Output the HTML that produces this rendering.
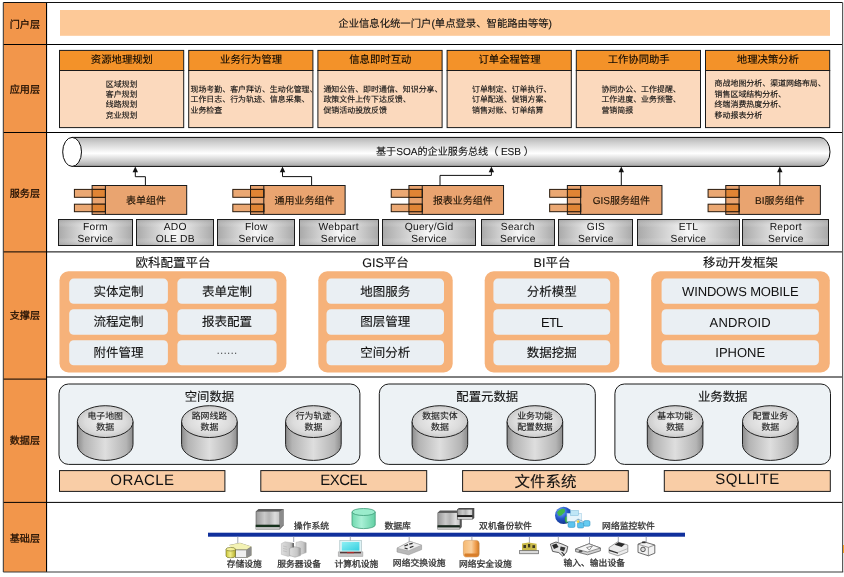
<!DOCTYPE html>
<html lang="zh-CN"><head><meta charset="utf-8"><title>企业信息化架构</title>
<style>
html,body{margin:0;padding:0;background:#fff;}
body{width:844px;height:577px;position:relative;overflow:hidden;font-family:"Liberation Sans",sans-serif;text-rendering:geometricPrecision;}
svg{position:absolute;left:0;top:0;}
.t{position:absolute;white-space:nowrap;overflow:visible;}
.k{-webkit-text-stroke:0.12px currentColor;}
#tx{position:absolute;left:0;top:0;width:844px;height:577px;will-change:transform;}
</style></head><body>
<svg width="844" height="577" viewBox="0 0 844 577">
<rect x="3.3" y="2.5" width="43.25" height="569.5" fill="#F2964B"/>
<line x1="3.3" y1="44.5" x2="842.6" y2="44.5" stroke="#000" stroke-width="1"/>
<line x1="3.3" y1="132.5" x2="842.6" y2="132.5" stroke="#000" stroke-width="1"/>
<line x1="3.3" y1="251.9" x2="842.6" y2="251.9" stroke="#000" stroke-width="1"/>
<line x1="3.3" y1="379.1" x2="46.55" y2="379.1" stroke="#000" stroke-width="1"/>
<line x1="46.55" y1="377.0" x2="842.6" y2="377.0" stroke="#000" stroke-width="1"/>
<line x1="3.3" y1="502.4" x2="842.6" y2="502.4" stroke="#000" stroke-width="1"/>
<line x1="46.55" y1="2.5" x2="46.55" y2="572.0" stroke="#000" stroke-width="1.1"/>
<line x1="3.3" y1="2.5" x2="842.6" y2="2.5" stroke="#111" stroke-width="1.1"/>
<line x1="3.3" y1="2.5" x2="3.3" y2="572.0" stroke="#333" stroke-width="1"/>
<line x1="842.6" y1="2.5" x2="842.6" y2="572.0" stroke="#5a5a5a" stroke-width="1.2"/>
<line x1="3.3" y1="572.0" x2="843.2" y2="572.0" stroke="#3a3a3a" stroke-width="1.2"/>
<rect x="843" y="545" width="1" height="8" fill="#F5A020"/>
<rect x="60" y="10" width="770" height="25.8" fill="#FDC998"/>
<rect x="59.50" y="70.5" width="124.2" height="57.1" fill="#FBD9BD" stroke="#1a1a1a" stroke-width="1"/>
<rect x="59.50" y="50.4" width="124.2" height="20.1" fill="#F39229" stroke="#1a1a1a" stroke-width="1"/>
<rect x="188.70" y="70.5" width="124.2" height="57.1" fill="#FBD9BD" stroke="#1a1a1a" stroke-width="1"/>
<rect x="188.70" y="50.4" width="124.2" height="20.1" fill="#F39229" stroke="#1a1a1a" stroke-width="1"/>
<rect x="317.90" y="70.5" width="124.2" height="57.1" fill="#FBD9BD" stroke="#1a1a1a" stroke-width="1"/>
<rect x="317.90" y="50.4" width="124.2" height="20.1" fill="#F39229" stroke="#1a1a1a" stroke-width="1"/>
<rect x="447.10" y="70.5" width="124.2" height="57.1" fill="#FBD9BD" stroke="#1a1a1a" stroke-width="1"/>
<rect x="447.10" y="50.4" width="124.2" height="20.1" fill="#F39229" stroke="#1a1a1a" stroke-width="1"/>
<rect x="576.30" y="70.5" width="124.2" height="57.1" fill="#FBD9BD" stroke="#1a1a1a" stroke-width="1"/>
<rect x="576.30" y="50.4" width="124.2" height="20.1" fill="#F39229" stroke="#1a1a1a" stroke-width="1"/>
<rect x="705.50" y="70.5" width="124.2" height="57.1" fill="#FBD9BD" stroke="#1a1a1a" stroke-width="1"/>
<rect x="705.50" y="50.4" width="124.2" height="20.1" fill="#F39229" stroke="#1a1a1a" stroke-width="1"/>
<defs>
<linearGradient id="pipe" x1="0" y1="0" x2="0" y2="1">
<stop offset="0" stop-color="#b4b4b4"/><stop offset="0.18" stop-color="#cfcfcf"/><stop offset="0.55" stop-color="#ffffff"/><stop offset="0.8" stop-color="#d0d0d0"/><stop offset="1" stop-color="#a6a6a6"/>
</linearGradient>
<linearGradient id="svcH" x1="0" y1="0" x2="1" y2="0">
<stop offset="0" stop-color="#a9a9a9"/><stop offset="0.5" stop-color="#f7f7f7"/><stop offset="1" stop-color="#a9a9a9"/>
</linearGradient>
<linearGradient id="svcV" x1="0" y1="0" x2="0" y2="1">
<stop offset="0" stop-color="#999" stop-opacity="0.55"/><stop offset="0.3" stop-color="#fff" stop-opacity="0"/><stop offset="0.7" stop-color="#fff" stop-opacity="0"/><stop offset="1" stop-color="#999" stop-opacity="0.55"/>
</linearGradient>
<linearGradient id="cylS" x1="0" y1="0" x2="1" y2="0">
<stop offset="0" stop-color="#8c8c8c"/><stop offset="0.12" stop-color="#b4b4b4"/><stop offset="0.5" stop-color="#dedede"/><stop offset="0.88" stop-color="#b4b4b4"/><stop offset="1" stop-color="#8c8c8c"/>
</linearGradient>
<radialGradient id="cylT" cx="0.5" cy="0.5" r="0.6">
<stop offset="0" stop-color="#f0f0f0"/><stop offset="0.6" stop-color="#dcdcdc"/><stop offset="1" stop-color="#bdbdbd"/>
</radialGradient>
</defs>
<path d="M72,137.4 L820,137.4 A10,14.5 0 0 1 820,166.4 L72,166.4 Z" fill="url(#pipe)" stroke="#0a0a0a" stroke-width="1"/>
<ellipse cx="72.1" cy="151.9" rx="9.4" ry="14.5" fill="#fff" stroke="#0a0a0a" stroke-width="1"/>
<rect x="92.10" y="185.5" width="94.6" height="28.9" fill="#E9A470" stroke="#1a1a1a" stroke-width="1"/>
<rect x="74.40" y="189.4" width="31.00" height="7.9" fill="#EBA873" stroke="#2a1a0c" stroke-width="1"/>
<rect x="92.10" y="189.4" width="13.30" height="7.9" fill="#E08434" stroke="#2a1a0c" stroke-width="1"/>
<rect x="74.40" y="204.2" width="31.00" height="7.5" fill="#EBA873" stroke="#2a1a0c" stroke-width="1"/>
<rect x="92.10" y="204.2" width="13.30" height="7.5" fill="#E08434" stroke="#2a1a0c" stroke-width="1"/>
<line x1="105.40" y1="185.5" x2="105.40" y2="214.4" stroke="#1a1a1a" stroke-width="1"/>
<rect x="250.52" y="185.5" width="94.6" height="28.9" fill="#E9A470" stroke="#1a1a1a" stroke-width="1"/>
<rect x="232.82" y="189.4" width="31.00" height="7.9" fill="#EBA873" stroke="#2a1a0c" stroke-width="1"/>
<rect x="250.52" y="189.4" width="13.30" height="7.9" fill="#E08434" stroke="#2a1a0c" stroke-width="1"/>
<rect x="232.82" y="204.2" width="31.00" height="7.5" fill="#EBA873" stroke="#2a1a0c" stroke-width="1"/>
<rect x="250.52" y="204.2" width="13.30" height="7.5" fill="#E08434" stroke="#2a1a0c" stroke-width="1"/>
<line x1="263.82" y1="185.5" x2="263.82" y2="214.4" stroke="#1a1a1a" stroke-width="1"/>
<rect x="408.94" y="185.5" width="94.6" height="28.9" fill="#E9A470" stroke="#1a1a1a" stroke-width="1"/>
<rect x="391.24" y="189.4" width="31.00" height="7.9" fill="#EBA873" stroke="#2a1a0c" stroke-width="1"/>
<rect x="408.94" y="189.4" width="13.30" height="7.9" fill="#E08434" stroke="#2a1a0c" stroke-width="1"/>
<rect x="391.24" y="204.2" width="31.00" height="7.5" fill="#EBA873" stroke="#2a1a0c" stroke-width="1"/>
<rect x="408.94" y="204.2" width="13.30" height="7.5" fill="#E08434" stroke="#2a1a0c" stroke-width="1"/>
<line x1="422.24" y1="185.5" x2="422.24" y2="214.4" stroke="#1a1a1a" stroke-width="1"/>
<rect x="567.36" y="185.5" width="94.6" height="28.9" fill="#E9A470" stroke="#1a1a1a" stroke-width="1"/>
<rect x="549.66" y="189.4" width="31.00" height="7.9" fill="#EBA873" stroke="#2a1a0c" stroke-width="1"/>
<rect x="567.36" y="189.4" width="13.30" height="7.9" fill="#E08434" stroke="#2a1a0c" stroke-width="1"/>
<rect x="549.66" y="204.2" width="31.00" height="7.5" fill="#EBA873" stroke="#2a1a0c" stroke-width="1"/>
<rect x="567.36" y="204.2" width="13.30" height="7.5" fill="#E08434" stroke="#2a1a0c" stroke-width="1"/>
<line x1="580.66" y1="185.5" x2="580.66" y2="214.4" stroke="#1a1a1a" stroke-width="1"/>
<rect x="725.78" y="185.5" width="94.6" height="28.9" fill="#E9A470" stroke="#1a1a1a" stroke-width="1"/>
<rect x="708.08" y="189.4" width="31.00" height="7.9" fill="#EBA873" stroke="#2a1a0c" stroke-width="1"/>
<rect x="725.78" y="189.4" width="13.30" height="7.9" fill="#E08434" stroke="#2a1a0c" stroke-width="1"/>
<rect x="708.08" y="204.2" width="31.00" height="7.5" fill="#EBA873" stroke="#2a1a0c" stroke-width="1"/>
<rect x="725.78" y="204.2" width="13.30" height="7.5" fill="#E08434" stroke="#2a1a0c" stroke-width="1"/>
<line x1="739.08" y1="185.5" x2="739.08" y2="214.4" stroke="#1a1a1a" stroke-width="1"/>
<path d="M145.4,185 V176.7 H135.3 V170" fill="none" stroke="#111" stroke-width="1"/>
<path d="M135.3,166.6 L138.0,172.2 L132.60000000000002,172.2 Z" fill="#111"/>
<path d="M311.6,185 V176.6 H282.5 V170" fill="none" stroke="#111" stroke-width="1"/>
<path d="M282.5,166.6 L285.2,172.2 L279.8,172.2 Z" fill="#111"/>
<path d="M440.0,185 V175.4 H491.4 V170" fill="none" stroke="#111" stroke-width="1"/>
<path d="M491.4,166.6 L494.09999999999997,172.2 L488.7,172.2 Z" fill="#111"/>
<path d="M621.3,185 V170" fill="none" stroke="#111" stroke-width="1"/>
<path d="M621.3,166.6 L624.0,172.2 L618.5999999999999,172.2 Z" fill="#111"/>
<path d="M779.8,185 V170" fill="none" stroke="#111" stroke-width="1"/>
<path d="M779.8,166.6 L782.5,172.2 L777.0999999999999,172.2 Z" fill="#111"/>
<rect x="58.5" y="219.5" width="74.00" height="26" fill="url(#svcH)"/>
<rect x="58.5" y="219.5" width="74.00" height="26" fill="url(#svcV)" stroke="#1c1c1c" stroke-width="1"/>
<rect x="136.5" y="219.5" width="77.00" height="26" fill="url(#svcH)"/>
<rect x="136.5" y="219.5" width="77.00" height="26" fill="url(#svcV)" stroke="#1c1c1c" stroke-width="1"/>
<rect x="217.5" y="219.5" width="77.00" height="26" fill="url(#svcH)"/>
<rect x="217.5" y="219.5" width="77.00" height="26" fill="url(#svcV)" stroke="#1c1c1c" stroke-width="1"/>
<rect x="299.5" y="219.5" width="79.00" height="26" fill="url(#svcH)"/>
<rect x="299.5" y="219.5" width="79.00" height="26" fill="url(#svcV)" stroke="#1c1c1c" stroke-width="1"/>
<rect x="382.5" y="219.5" width="93.00" height="26" fill="url(#svcH)"/>
<rect x="382.5" y="219.5" width="93.00" height="26" fill="url(#svcV)" stroke="#1c1c1c" stroke-width="1"/>
<rect x="481.5" y="219.5" width="73.00" height="26" fill="url(#svcH)"/>
<rect x="481.5" y="219.5" width="73.00" height="26" fill="url(#svcV)" stroke="#1c1c1c" stroke-width="1"/>
<rect x="558.5" y="219.5" width="74.00" height="26" fill="url(#svcH)"/>
<rect x="558.5" y="219.5" width="74.00" height="26" fill="url(#svcV)" stroke="#1c1c1c" stroke-width="1"/>
<rect x="637.5" y="219.5" width="102.00" height="26" fill="url(#svcH)"/>
<rect x="637.5" y="219.5" width="102.00" height="26" fill="url(#svcV)" stroke="#1c1c1c" stroke-width="1"/>
<rect x="742.5" y="219.5" width="86.00" height="26" fill="url(#svcH)"/>
<rect x="742.5" y="219.5" width="86.00" height="26" fill="url(#svcV)" stroke="#1c1c1c" stroke-width="1"/>
<rect x="59.5" y="271.3" width="226.90" height="101.2" rx="9" fill="#F6B27A"/>
<rect x="318.3" y="271.3" width="134.40" height="101.2" rx="9" fill="#F6B27A"/>
<rect x="484.7" y="271.3" width="134.60" height="101.2" rx="9" fill="#F6B27A"/>
<rect x="651.2" y="271.3" width="178.60" height="101.2" rx="9" fill="#F6B27A"/>
<rect x="69.2" y="278.6" width="98.70" height="25.20" rx="4.5" fill="#EAEFF3"/>
<rect x="177.4" y="278.6" width="99.20" height="25.20" rx="4.5" fill="#EAEFF3"/>
<rect x="69.2" y="309.3" width="98.70" height="25.50" rx="4.5" fill="#EAEFF3"/>
<rect x="177.4" y="309.3" width="99.20" height="25.50" rx="4.5" fill="#EAEFF3"/>
<rect x="69.2" y="340.3" width="98.70" height="24.90" rx="4.5" fill="#EAEFF3"/>
<rect x="177.4" y="340.3" width="99.20" height="24.90" rx="4.5" fill="#EAEFF3"/>
<rect x="326.5" y="278.6" width="117.50" height="25.20" rx="4.5" fill="#EAEFF3"/>
<rect x="326.5" y="309.3" width="117.50" height="25.50" rx="4.5" fill="#EAEFF3"/>
<rect x="326.5" y="340.3" width="117.50" height="24.90" rx="4.5" fill="#EAEFF3"/>
<rect x="493.4" y="278.6" width="116.80" height="25.20" rx="4.5" fill="#EAEFF3"/>
<rect x="493.4" y="309.3" width="116.80" height="25.50" rx="4.5" fill="#EAEFF3"/>
<rect x="493.4" y="340.3" width="116.80" height="24.90" rx="4.5" fill="#EAEFF3"/>
<rect x="661.6" y="278.6" width="157.30" height="25.20" rx="4.5" fill="#EAEFF3"/>
<rect x="661.6" y="309.3" width="157.30" height="25.50" rx="4.5" fill="#EAEFF3"/>
<rect x="661.6" y="340.3" width="157.30" height="24.90" rx="4.5" fill="#EAEFF3"/>
<rect x="59" y="384" width="300.90" height="80.4" rx="9.5" fill="#EDF2F5" stroke="#1a1a1a" stroke-width="1"/>
<rect x="379.3" y="384" width="216.00" height="80.4" rx="9.5" fill="#EDF2F5" stroke="#1a1a1a" stroke-width="1"/>
<rect x="614.9" y="384" width="215.60" height="80.4" rx="9.5" fill="#EDF2F5" stroke="#1a1a1a" stroke-width="1"/>
<path d="M77.4,421.6 V444.5 A27.8,15.9 0 0 0 133.0,444.5 V421.6 Z" fill="url(#cylS)" stroke="#222" stroke-width="1"/>
<ellipse cx="105.2" cy="421.6" rx="27.8" ry="15.9" fill="url(#cylT)" stroke="#222" stroke-width="1"/>
<path d="M181.6,421.6 V444.5 A27.8,15.9 0 0 0 237.2,444.5 V421.6 Z" fill="url(#cylS)" stroke="#222" stroke-width="1"/>
<ellipse cx="209.4" cy="421.6" rx="27.8" ry="15.9" fill="url(#cylT)" stroke="#222" stroke-width="1"/>
<path d="M285.6,421.6 V444.5 A27.8,15.9 0 0 0 341.20000000000005,444.5 V421.6 Z" fill="url(#cylS)" stroke="#222" stroke-width="1"/>
<ellipse cx="313.40000000000003" cy="421.6" rx="27.8" ry="15.9" fill="url(#cylT)" stroke="#222" stroke-width="1"/>
<path d="M412.1,421.6 V444.5 A27.8,15.9 0 0 0 467.70000000000005,444.5 V421.6 Z" fill="url(#cylS)" stroke="#222" stroke-width="1"/>
<ellipse cx="439.90000000000003" cy="421.6" rx="27.8" ry="15.9" fill="url(#cylT)" stroke="#222" stroke-width="1"/>
<path d="M507.1,421.6 V444.5 A27.8,15.9 0 0 0 562.7,444.5 V421.6 Z" fill="url(#cylS)" stroke="#222" stroke-width="1"/>
<ellipse cx="534.9" cy="421.6" rx="27.8" ry="15.9" fill="url(#cylT)" stroke="#222" stroke-width="1"/>
<path d="M647.3,421.6 V444.5 A27.8,15.9 0 0 0 702.9,444.5 V421.6 Z" fill="url(#cylS)" stroke="#222" stroke-width="1"/>
<ellipse cx="675.0999999999999" cy="421.6" rx="27.8" ry="15.9" fill="url(#cylT)" stroke="#222" stroke-width="1"/>
<path d="M742.5,421.6 V444.5 A27.8,15.9 0 0 0 798.1,444.5 V421.6 Z" fill="url(#cylS)" stroke="#222" stroke-width="1"/>
<ellipse cx="770.3" cy="421.6" rx="27.8" ry="15.9" fill="url(#cylT)" stroke="#222" stroke-width="1"/>
<rect x="59.5" y="470.6" width="165.40" height="20.8" fill="#F9CDA6" stroke="#1a1a1a" stroke-width="1"/>
<rect x="260.8" y="470.6" width="165.90" height="20.8" fill="#F9CDA6" stroke="#1a1a1a" stroke-width="1"/>
<rect x="462.6" y="470.6" width="165.70" height="20.8" fill="#F9CDA6" stroke="#1a1a1a" stroke-width="1"/>
<rect x="664.3" y="470.6" width="166.00" height="20.8" fill="#F9CDA6" stroke="#1a1a1a" stroke-width="1"/>
<rect x="208" y="532.7" width="477" height="4" fill="#10309C"/>
<defs>
<linearGradient id="gbox" x1="0" y1="0" x2="1" y2="0"><stop offset="0" stop-color="#9a9a9a"/><stop offset="0.35" stop-color="#c9c9c9"/><stop offset="0.55" stop-color="#b4b4b4"/><stop offset="0.8" stop-color="#dcdcdc"/><stop offset="1" stop-color="#c4c4c4"/></linearGradient>
<linearGradient id="gdb" x1="0" y1="0" x2="1" y2="0"><stop offset="0" stop-color="#6fd9ae"/><stop offset="0.4" stop-color="#a9f0d6"/><stop offset="1" stop-color="#63d0a4"/></linearGradient>
<linearGradient id="gyel" x1="0" y1="0" x2="1" y2="0"><stop offset="0" stop-color="#c9c43a"/><stop offset="0.45" stop-color="#f1ee8a"/><stop offset="1" stop-color="#b8b230"/></linearGradient>
<linearGradient id="gsrv" x1="0" y1="0" x2="1" y2="0"><stop offset="0" stop-color="#dedede"/><stop offset="0.7" stop-color="#c6c6c6"/><stop offset="1" stop-color="#9c9c9c"/></linearGradient>
<linearGradient id="gcy" x1="0" y1="0" x2="1" y2="1"><stop offset="0" stop-color="#8ff0f4"/><stop offset="1" stop-color="#35cfe0"/></linearGradient>
<linearGradient id="gor" x1="0" y1="0" x2="1" y2="0"><stop offset="0" stop-color="#f6b870"/><stop offset="0.5" stop-color="#f9cf9c"/><stop offset="0.8" stop-color="#ee9a48"/><stop offset="1" stop-color="#c87828"/></linearGradient>
<radialGradient id="gglobe" cx="0.35" cy="0.3" r="0.8"><stop offset="0" stop-color="#7fb4ff"/><stop offset="0.5" stop-color="#2456c8"/><stop offset="1" stop-color="#0c2a7a"/></radialGradient>
<filter id="soft" x="-5%" y="-5%" width="110%" height="110%"><feGaussianBlur stdDeviation="0.45"/></filter>
</defs>
<g filter="url(#soft)">
<!-- connectors -->
<g stroke="#8a8fa0" stroke-width="0.8">
<line x1="237.8" y1="536.5" x2="237.8" y2="543"/><line x1="293.7" y1="536.5" x2="293.7" y2="542"/><line x1="350.3" y1="536.5" x2="350.3" y2="541"/>
<line x1="409.2" y1="536.5" x2="409.2" y2="542"/><line x1="471.9" y1="536.5" x2="471.9" y2="540.5"/><line x1="529.4" y1="536.5" x2="529.4" y2="543"/>
<line x1="558.3" y1="536.5" x2="558.3" y2="542"/><line x1="589.5" y1="536.5" x2="589.5" y2="544"/><line x1="618.3" y1="536.5" x2="618.3" y2="542"/><line x1="646.2" y1="536.5" x2="646.2" y2="542"/>
</g>
<!-- OS box -->
<g>
<path d="M255.7,511.5 L258.5,509 L283.6,509 L283.6,525.5 L279.6,529.4 L255.7,529.4 Z" fill="#5a5a5a"/>
<rect x="256.3" y="511.6" width="23.3" height="13.2" fill="url(#gbox)"/>
<path d="M279.6,511.5 L283.2,509.3 L283.2,525 L279.6,528.8 Z" fill="#8b8b8b"/>
<rect x="255.7" y="524.8" width="24" height="2.3" fill="#17301c"/>
<rect x="256" y="527.1" width="23.6" height="2.2" fill="#c4c4c4"/>
</g>
<!-- DB -->
<g>
<path d="M352,512 V525 A11.6,3.6 0 0 0 375.2,525 V512 Z" fill="url(#gdb)" stroke="#3f9c78" stroke-width="0.8"/>
<ellipse cx="363.6" cy="512" rx="11.6" ry="3.5" fill="#9aeccc" stroke="#3f9c78" stroke-width="0.8"/>
</g>
<!-- dual machine -->
<g>
<path d="M437.5,512.7 L440,510.6 L461.8,510.6 L461.8,527 L459.5,529.5 L437.5,529.5 Z" fill="#555"/>
<rect x="438.1" y="512.9" width="21.6" height="12.4" fill="url(#gbox)"/>
<rect x="437.5" y="525.3" width="22.3" height="2.2" fill="#15281a"/>
<rect x="437.8" y="527.5" width="21.8" height="2" fill="#c8c8c8"/>
<path d="M457,509.5 L458.8,508 L474.3,508 L474.3,518 L472.6,519.4 L457,519.4 Z" fill="#4c4c4c"/>
<rect x="457.6" y="509.6" width="14.6" height="5.6" fill="url(#gbox)"/>
<rect x="457.3" y="515.2" width="15" height="1.8" fill="#1c1c1c"/>
<rect x="457.6" y="517" width="14.6" height="2.1" fill="#d0d0d0"/>
</g>
<!-- globe + network -->
<g>
<circle cx="563.6" cy="515.4" r="8.6" fill="url(#gglobe)"/>
<path d="M557,512.4 q3,-4.4 7.4,-3.6 q1.8,2.8 -1,4.6 q-2,2.6 -4.6,2.6 z" fill="#3fb848"/>
<path d="M565,517 q4,-2 6,1 q-1,4 -5,5 q-2,-3 -1,-6z" fill="#36a840"/>
<rect x="567" y="513.3" width="14.5" height="8" fill="#e6f4fb" stroke="#a8d0e6" stroke-width="0.6"/>
<rect x="570.5" y="510.5" width="8" height="5" fill="#bfe6f6" stroke="#78b8d8" stroke-width="0.5"/>
<g stroke="#6a9ab8" stroke-width="0.7"><line x1="578" y1="519" x2="571.5" y2="524"/><line x1="578" y1="519" x2="581" y2="524"/><line x1="578" y1="519" x2="587" y2="523.5"/></g>
<rect x="568" y="521.8" width="7" height="5.6" rx="1.5" fill="#5cc4ee" stroke="#2a88b8" stroke-width="0.5"/>
<rect x="577.4" y="522.6" width="6.4" height="5.4" rx="1.5" fill="#5cc4ee" stroke="#2a88b8" stroke-width="0.5"/>
<rect x="583.6" y="520.6" width="6.4" height="5.6" rx="1.5" fill="#66ccf2" stroke="#2a88b8" stroke-width="0.5"/>
<circle cx="578" cy="521.6" r="1.3" fill="#f4d43a"/>
</g>
<!-- storage -->
<g>
<path d="M229,545 L240,542.8 L251.5,546.5 L251.5,555.5 L247,558 L235,558 L235,549 Z" fill="#8a8a70"/>
<path d="M229,545.2 L240,543 L251,546.6 L246.5,549.6 L234,549.4 Z" fill="#f3f2b4"/>
<rect x="235.6" y="550" width="11" height="7.6" fill="#efefef" stroke="#6c6c6c" stroke-width="0.5"/>
<path d="M246.8,549.8 L251.3,546.9 L251.3,555.2 L246.8,557.6 Z" fill="#8c8c8c"/>
<path d="M226,549.2 V556 A4.7,1.8 0 0 0 235.4,556 V549.2 Z" fill="url(#gyel)" stroke="#6c6a20" stroke-width="0.6"/>
<ellipse cx="230.7" cy="549.2" rx="4.7" ry="1.8" fill="#f4f19a" stroke="#6c6a20" stroke-width="0.6"/>
</g>
<!-- servers -->
<g>
<path d="M281.4,543.6 L285,541.8 L293,543 L293,555 L288,556.4 L281.4,554.4 Z" fill="url(#gsrv)" stroke="#a8a8a8" stroke-width="0.4"/>
<path d="M296,542.4 L301,541.2 L306.2,542.8 L306.2,552.6 L301,554.4 L296,553 Z" fill="url(#gsrv)" stroke="#a0a0a0" stroke-width="0.4"/>
<path d="M289.6,548.4 L294,546.6 L300.4,548 L300.4,555.6 L295,557.2 L289.6,555.6 Z" fill="url(#gsrv)" stroke="#999" stroke-width="0.5"/>
<g stroke="#b4b4b4" stroke-width="0.6"><line x1="283" y1="546" x2="287" y2="547"/><line x1="283" y1="548.4" x2="287" y2="549.4"/><line x1="283" y1="550.8" x2="287" y2="551.8"/></g>
<rect x="292.4" y="543" width="1.6" height="4.4" fill="#6a6a6a"/>
</g>
<!-- computer -->
<g>
<rect x="339.8" y="540.6" width="21.5" height="11" fill="#dff4f6" stroke="#9fb8bc" stroke-width="0.6"/>
<rect x="341.8" y="542" width="17.6" height="8.6" fill="url(#gcy)"/>
<path d="M338.4,551.8 H362.8 V556.4 H338.4 Z" fill="#c9c9c9" stroke="#8c8c8c" stroke-width="0.5"/>
<rect x="340" y="552.2" width="21" height="1.1" fill="#3a1a1a"/>
<rect x="347" y="552" width="7" height="1.2" fill="#b02a2a"/>
</g>
<!-- switch -->
<g>
<path d="M397,548.2 L410,541.4 L421.6,545.2 L421.6,549.6 L408.6,554.8 L397,552 Z" fill="#b9b9b9" stroke="#8a8a8a" stroke-width="0.5"/>
<path d="M397,548.2 L410,541.4 L421.6,545.2 L408.6,550.8 Z" fill="#ededed" stroke="#9a9a9a" stroke-width="0.5"/>
<g stroke="#2e2e2e" stroke-width="1.2" fill="none"><path d="M404.4,546 L408,544.6"/><path d="M409.8,547.6 L413.4,546.2"/><path d="M409.2,544.2 L412.6,543.4"/><path d="M404.6,548 L407.6,548.8"/></g>
</g>
<!-- security -->
<g>
<path d="M465.4,540.4 H476.4 Q479.2,540.8 479.2,543.6 V554 Q479.2,557 476.2,557 H465.6 Q463.4,556.6 463.4,554 V542.6 Q463.6,540.6 465.4,540.4 Z" fill="url(#gor)" stroke="#c98a4a" stroke-width="0.5"/>
<path d="M465,553.4 H478 V555.4 Q477.4,556.8 476,556.8 H466 Q464.6,556.6 464.2,555 Z" fill="#d87e2c"/>
</g>
<!-- icon A scanner -->
<g>
<path d="M522,543.6 L528.6,542.4 L536.6,543.8 L536.8,550.6 L522,550.6 Z" fill="#c9b94a"/>
<g fill="#3c3820"><rect x="523.4" y="545" width="2.6" height="3"/><rect x="528" y="544" width="2.2" height="3.4"/><rect x="532.4" y="545.2" width="2.6" height="2.8"/></g>
<rect x="519.7" y="550.6" width="18.8" height="3.2" fill="#d9d9d9" stroke="#4a4a4a" stroke-width="0.6"/>
</g>
<!-- icon B camera -->
<g>
<path d="M550.4,544.2 L556,542 L562,544 L567.8,546.6 L566.6,552 L562.8,556.2 L558.8,552.6 L552.6,551.4 Z" fill="#e4e4e4" stroke="#3a3a3a" stroke-width="0.8"/>
<path d="M552,545 L556.4,543.4 L558.6,547 L554,549 Z" fill="#2c2c2c"/>
<path d="M560.6,546.4 L565.4,547.6 L564,551.6 L560,550 Z" fill="#343434"/>
<path d="M561.6,552 L564.6,555.4" stroke="#222" stroke-width="1.1"/>
</g>
<!-- icon C projector -->
<g>
<path d="M575.6,549 L589,543.8 L600.4,548 L600.4,550.8 L587.6,554.8 L575.6,551.6 Z" fill="#d2d2d2" stroke="#4c4c4c" stroke-width="0.7"/>
<path d="M575.6,549 L589,543.8 L600.4,548 L587.6,552 Z" fill="#f6f6f6" stroke="#555" stroke-width="0.6"/>
<path d="M586.6,547.6 L592.4,546 L589.4,550 Z" fill="#fff" stroke="#444" stroke-width="0.6"/>
<ellipse cx="580.6" cy="551.2" rx="1.8" ry="1.3" fill="#555"/>
</g>
<!-- icon D printer -->
<g>
<path d="M609,547.6 L617.4,542 L627.8,545 L627.8,552 L618,555.8 L609,552.8 Z" fill="#ececec" stroke="#6a6a6a" stroke-width="0.6"/>
<path d="M614.6,544.8 L618.4,542.2 L625,544 L621.6,547 Z" fill="#2a2a2a"/>
<path d="M609,549.6 L618,552.4 L618,553.8 L609,551 Z" fill="#333"/>
<path d="M618,552.4 L627.8,548.6" stroke="#9a9a9a" stroke-width="0.6"/>
</g>
<!-- icon E camera box -->
<g>
<path d="M638,544.2 L644,541.8 L654.8,545 L654.8,553.2 L648.4,555.8 L638,552.4 Z" fill="#f2f2f2" stroke="#4a4a4a" stroke-width="0.8"/>
<path d="M648.4,547.4 L654.8,545 M648.4,547.4 L648.4,555.8 M638,544.2 L648.4,547.4" stroke="#5a5a5a" stroke-width="0.6" fill="none"/>
<circle cx="643" cy="549.4" r="2.3" fill="#dcdcdc" stroke="#333" stroke-width="0.8"/>
<rect x="642" y="541.6" width="3.6" height="1.6" fill="#333"/>
</g>
</g>

</svg>
<div id="tx">
<div class="t" style="left:2.90px;top:19.84px;width:44px;height:12.12px;font-size:10.1px;line-height:12.12px;text-align:center;color:#1a0c02;font-weight:500;-webkit-text-stroke:0.25px #1a0c02;">门户层</div>
<div class="t" style="left:2.90px;top:84.84px;width:44px;height:12.12px;font-size:10.1px;line-height:12.12px;text-align:center;color:#1a0c02;font-weight:500;-webkit-text-stroke:0.25px #1a0c02;">应用层</div>
<div class="t" style="left:2.90px;top:188.54px;width:44px;height:12.12px;font-size:10.1px;line-height:12.12px;text-align:center;color:#1a0c02;font-weight:500;-webkit-text-stroke:0.25px #1a0c02;">服务层</div>
<div class="t" style="left:2.90px;top:310.79px;width:44px;height:12.12px;font-size:10.1px;line-height:12.12px;text-align:center;color:#1a0c02;font-weight:500;-webkit-text-stroke:0.25px #1a0c02;">支撑层</div>
<div class="t" style="left:2.90px;top:436.04px;width:44px;height:12.12px;font-size:10.1px;line-height:12.12px;text-align:center;color:#1a0c02;font-weight:500;-webkit-text-stroke:0.25px #1a0c02;">数据层</div>
<div class="t" style="left:2.90px;top:533.54px;width:44px;height:12.12px;font-size:10.1px;line-height:12.12px;text-align:center;color:#1a0c02;font-weight:500;-webkit-text-stroke:0.25px #1a0c02;">基础层</div>
<div class="t k" style="left:245.20px;top:18.89px;width:400px;height:12.42px;font-size:10.35px;line-height:12.42px;text-align:center;color:#111;">企业信息化统一门户(单点登录、智能路由等等)</div>
<div class="t k" style="left:59.90px;top:55.29px;width:124px;height:12.42px;font-size:10.35px;line-height:12.42px;text-align:center;color:#0c0802;">资源地理规划</div>
<div class="t k" style="left:59.60px;top:79.50px;width:124px;height:41.60px;font-size:7.95px;line-height:10.4px;text-align:center;color:#111;">区域规划<br>客户规划<br>线路规划<br>竞业规划</div>
<div class="t k" style="left:189.10px;top:55.29px;width:124px;height:12.42px;font-size:10.35px;line-height:12.42px;text-align:center;color:#0c0802;">业务行为管理</div>
<div class="t k" style="left:190.50px;top:84.62px;width:135px;height:31.35px;font-size:7.95px;line-height:10.45px;text-align:left;color:#111;white-space:nowrap;">现场考勤、客户拜访、生动化管理、<br>工作日志、行为轨迹、信息采集、<br>业务检查</div>
<div class="t k" style="left:318.30px;top:55.29px;width:124px;height:12.42px;font-size:10.35px;line-height:12.42px;text-align:center;color:#0c0802;">信息即时互动</div>
<div class="t k" style="left:323.40px;top:84.62px;width:135px;height:31.35px;font-size:7.95px;line-height:10.45px;text-align:left;color:#111;white-space:nowrap;">通知公告、即时通信、知识分享、<br>政策文件上传下达反馈、<br>促销活动投放反馈</div>
<div class="t k" style="left:447.50px;top:55.29px;width:124px;height:12.42px;font-size:10.35px;line-height:12.42px;text-align:center;color:#0c0802;">订单全程管理</div>
<div class="t k" style="left:472.00px;top:84.62px;width:135px;height:31.35px;font-size:7.95px;line-height:10.45px;text-align:left;color:#111;white-space:nowrap;">订单制定、订单执行、<br>订单配送、促销方案、<br>销售对账、订单结算</div>
<div class="t k" style="left:576.70px;top:55.29px;width:124px;height:12.42px;font-size:10.35px;line-height:12.42px;text-align:center;color:#0c0802;">工作协同助手</div>
<div class="t k" style="left:601.40px;top:84.62px;width:135px;height:31.35px;font-size:7.95px;line-height:10.45px;text-align:left;color:#111;white-space:nowrap;">协同办公、工作提醒、<br>工作进度、业务预警、<br>营销简报</div>
<div class="t k" style="left:705.90px;top:55.29px;width:124px;height:12.42px;font-size:10.35px;line-height:12.42px;text-align:center;color:#0c0802;">地理决策分析</div>
<div class="t k" style="left:714.60px;top:79.40px;width:135px;height:41.80px;font-size:7.95px;line-height:10.45px;text-align:left;color:#111;white-space:nowrap;">商战地图分析、渠道网络布局、<br>销售区域结构分析、<br>终端消费热度分析、<br>移动报表分析</div>
<div class="t k" style="left:304.90px;top:147.34px;width:300px;height:12.12px;font-size:10.1px;line-height:12.12px;text-align:center;color:#111;">基于SOA的企业服务总线（<span style="margin:0 2.6px">ESB</span>）</div>
<div class="t k" style="left:101.05px;top:195.50px;width:90px;height:12.00px;font-size:10px;line-height:12.0px;text-align:center;color:#1c1206;">表单组件</div>
<div class="t k" style="left:259.47px;top:195.50px;width:90px;height:12.00px;font-size:10px;line-height:12.0px;text-align:center;color:#1c1206;">通用业务组件</div>
<div class="t k" style="left:417.89px;top:195.50px;width:90px;height:12.00px;font-size:10px;line-height:12.0px;text-align:center;color:#1c1206;">报表业务组件</div>
<div class="t k" style="left:576.31px;top:195.50px;width:90px;height:12.00px;font-size:10px;line-height:12.0px;text-align:center;color:#1c1206;">GIS服务组件</div>
<div class="t k" style="left:734.73px;top:195.50px;width:90px;height:12.00px;font-size:10px;line-height:12.0px;text-align:center;color:#1c1206;">BI服务组件</div>
<div class="t" style="left:45.40px;top:221.50px;width:100px;height:25.60px;font-size:10.3px;line-height:12.8px;text-align:center;color:#111;letter-spacing:0.2px;">Form<br>Service</div>
<div class="t" style="left:125.25px;top:221.50px;width:100px;height:25.60px;font-size:10.3px;line-height:12.8px;text-align:center;color:#111;letter-spacing:0.2px;">ADO<br>OLE DB</div>
<div class="t" style="left:206.40px;top:221.50px;width:100px;height:25.60px;font-size:10.3px;line-height:12.8px;text-align:center;color:#111;letter-spacing:0.2px;">Flow<br>Service</div>
<div class="t" style="left:288.70px;top:221.50px;width:100px;height:25.60px;font-size:10.3px;line-height:12.8px;text-align:center;color:#111;letter-spacing:0.2px;">Webpart<br>Service</div>
<div class="t" style="left:379.15px;top:221.50px;width:100px;height:25.60px;font-size:10.3px;line-height:12.8px;text-align:center;color:#111;letter-spacing:0.2px;">Query/Gid<br>Service</div>
<div class="t" style="left:467.75px;top:221.50px;width:100px;height:25.60px;font-size:10.3px;line-height:12.8px;text-align:center;color:#111;letter-spacing:0.2px;">Search<br>Service</div>
<div class="t" style="left:545.85px;top:221.50px;width:100px;height:25.60px;font-size:10.3px;line-height:12.8px;text-align:center;color:#111;letter-spacing:0.2px;">GIS<br>Service</div>
<div class="t" style="left:638.45px;top:221.50px;width:100px;height:25.60px;font-size:10.3px;line-height:12.8px;text-align:center;color:#111;letter-spacing:0.2px;">ETL<br>Service</div>
<div class="t" style="left:735.80px;top:221.50px;width:100px;height:25.60px;font-size:10.3px;line-height:12.8px;text-align:center;color:#111;letter-spacing:0.2px;">Report<br>Service</div>
<div class="t k" style="left:97.95px;top:255.50px;width:150px;height:15.00px;font-size:12.5px;line-height:15.0px;text-align:center;color:#111;">欧科配置平台</div>
<div class="t k" style="left:310.50px;top:255.50px;width:150px;height:15.00px;font-size:12.5px;line-height:15.0px;text-align:center;color:#111;">GIS平台</div>
<div class="t k" style="left:477.00px;top:255.50px;width:150px;height:15.00px;font-size:12.5px;line-height:15.0px;text-align:center;color:#111;">BI平台</div>
<div class="t k" style="left:665.50px;top:255.50px;width:150px;height:15.00px;font-size:12.5px;line-height:15.0px;text-align:center;color:#111;">移动开发框架</div>
<div class="t k" style="left:69.20px;top:284.60px;width:98.7px;height:15.00px;font-size:12.5px;line-height:15.0px;text-align:center;color:#111;white-space:nowrap;">实体定制</div>
<div class="t k" style="left:177.40px;top:284.60px;width:99.20000000000002px;height:15.00px;font-size:12.5px;line-height:15.0px;text-align:center;color:#111;white-space:nowrap;">表单定制</div>
<div class="t k" style="left:69.20px;top:315.45px;width:98.7px;height:15.00px;font-size:12.5px;line-height:15.0px;text-align:center;color:#111;white-space:nowrap;">流程定制</div>
<div class="t k" style="left:177.40px;top:315.45px;width:99.20000000000002px;height:15.00px;font-size:12.5px;line-height:15.0px;text-align:center;color:#111;white-space:nowrap;">报表配置</div>
<div class="t k" style="left:69.20px;top:346.15px;width:98.7px;height:15.00px;font-size:12.5px;line-height:15.0px;text-align:center;color:#111;white-space:nowrap;">附件管理</div>
<div class="t" style="left:177.40px;top:346.15px;width:99.20000000000002px;height:15.00px;font-size:12.5px;line-height:15.0px;text-align:center;color:#111;white-space:nowrap;"><span style='font-size:10px;letter-spacing:0.2px;position:relative;top:-1.4px;color:#000'>······</span></div>
<div class="t k" style="left:326.50px;top:284.60px;width:117.5px;height:15.00px;font-size:12.5px;line-height:15.0px;text-align:center;color:#111;white-space:nowrap;">地图服务</div>
<div class="t k" style="left:326.50px;top:315.45px;width:117.5px;height:15.00px;font-size:12.5px;line-height:15.0px;text-align:center;color:#111;white-space:nowrap;">图层管理</div>
<div class="t k" style="left:326.50px;top:346.15px;width:117.5px;height:15.00px;font-size:12.5px;line-height:15.0px;text-align:center;color:#111;white-space:nowrap;">空间分析</div>
<div class="t k" style="left:493.40px;top:284.60px;width:116.80000000000007px;height:15.00px;font-size:12.5px;line-height:15.0px;text-align:center;color:#111;white-space:nowrap;">分析模型</div>
<div class="t" style="left:493.40px;top:314.75px;width:116.80000000000007px;height:15.60px;font-size:13px;line-height:15.6px;text-align:center;color:#111;letter-spacing:-0.8px;white-space:nowrap;">ETL</div>
<div class="t k" style="left:493.40px;top:346.15px;width:116.80000000000007px;height:15.00px;font-size:12.5px;line-height:15.0px;text-align:center;color:#111;white-space:nowrap;">数据挖掘</div>
<div class="t" style="left:661.60px;top:283.90px;width:157.29999999999995px;height:15.60px;font-size:13px;line-height:15.6px;text-align:center;color:#111;letter-spacing:-0.15px;white-space:nowrap;">WINDOWS MOBILE</div>
<div class="t" style="left:661.60px;top:314.75px;width:157.29999999999995px;height:15.60px;font-size:13px;line-height:15.6px;text-align:center;color:#111;letter-spacing:0.2px;white-space:nowrap;">ANDROID</div>
<div class="t" style="left:661.60px;top:345.45px;width:157.29999999999995px;height:15.60px;font-size:13px;line-height:15.6px;text-align:center;color:#111;white-space:nowrap;">IPHONE</div>
<div class="t k" style="left:134.45px;top:389.56px;width:150px;height:14.88px;font-size:12.4px;line-height:14.879999999999999px;text-align:center;color:#111;">空间数据</div>
<div class="t k" style="left:412.30px;top:389.56px;width:150px;height:14.88px;font-size:12.4px;line-height:14.879999999999999px;text-align:center;color:#111;">配置元数据</div>
<div class="t k" style="left:647.70px;top:389.56px;width:150px;height:14.88px;font-size:12.4px;line-height:14.879999999999999px;text-align:center;color:#111;">业务数据</div>
<div class="t k" style="left:75.20px;top:410.70px;width:60px;height:22.60px;font-size:8.9px;line-height:11.3px;text-align:center;color:#1a1a1a;">电子地图<br>数据</div>
<div class="t k" style="left:179.40px;top:410.70px;width:60px;height:22.60px;font-size:8.9px;line-height:11.3px;text-align:center;color:#1a1a1a;">路网线路<br>数据</div>
<div class="t k" style="left:283.40px;top:410.70px;width:60px;height:22.60px;font-size:8.9px;line-height:11.3px;text-align:center;color:#1a1a1a;">行为轨迹<br>数据</div>
<div class="t k" style="left:409.90px;top:410.70px;width:60px;height:22.60px;font-size:8.9px;line-height:11.3px;text-align:center;color:#1a1a1a;">数据实体<br>数据</div>
<div class="t k" style="left:504.90px;top:410.70px;width:60px;height:22.60px;font-size:8.9px;line-height:11.3px;text-align:center;color:#1a1a1a;">业务功能<br>配置数据</div>
<div class="t k" style="left:645.10px;top:410.70px;width:60px;height:22.60px;font-size:8.9px;line-height:11.3px;text-align:center;color:#1a1a1a;">基本功能<br>数据</div>
<div class="t k" style="left:740.30px;top:410.70px;width:60px;height:22.60px;font-size:8.9px;line-height:11.3px;text-align:center;color:#1a1a1a;">配置业务<br>数据</div>
<div class="t" style="left:62.40px;top:472.00px;width:160px;height:18.00px;font-size:15px;line-height:18.0px;text-align:center;color:#111;letter-spacing:0.4px;">ORACLE</div>
<div class="t" style="left:263.50px;top:472.00px;width:160px;height:18.00px;font-size:15px;line-height:18.0px;text-align:center;color:#111;letter-spacing:-0.5px;">EXCEL</div>
<div class="t k" style="left:465.45px;top:473.50px;width:160px;height:18.60px;font-size:15.5px;line-height:18.599999999999998px;text-align:center;color:#111;">文件系统</div>
<div class="t" style="left:667.50px;top:471.00px;width:160px;height:18.00px;font-size:15px;line-height:18.0px;text-align:center;color:#111;letter-spacing:0.4px;">SQLLITE</div>
<div class="t" style="left:271.40px;top:521.32px;width:80px;height:10.56px;font-size:8.8px;line-height:10.56px;text-align:center;color:#2e2e2e;white-space:nowrap;-webkit-text-stroke:0.25px #2e2e2e;filter:blur(0.3px);">操作系统</div>
<div class="t" style="left:357.60px;top:521.32px;width:80px;height:10.56px;font-size:8.8px;line-height:10.56px;text-align:center;color:#2e2e2e;white-space:nowrap;-webkit-text-stroke:0.25px #2e2e2e;filter:blur(0.3px);">数据库</div>
<div class="t" style="left:465.50px;top:521.32px;width:80px;height:10.56px;font-size:8.8px;line-height:10.56px;text-align:center;color:#2e2e2e;white-space:nowrap;-webkit-text-stroke:0.25px #2e2e2e;filter:blur(0.3px);">双机备份软件</div>
<div class="t" style="left:588.50px;top:521.32px;width:80px;height:10.56px;font-size:8.8px;line-height:10.56px;text-align:center;color:#2e2e2e;white-space:nowrap;-webkit-text-stroke:0.25px #2e2e2e;filter:blur(0.3px);">网络监控软件</div>
<div class="t" style="left:199.25px;top:559.12px;width:90px;height:10.56px;font-size:8.8px;line-height:10.56px;text-align:center;color:#2e2e2e;white-space:nowrap;-webkit-text-stroke:0.25px #2e2e2e;filter:blur(0.3px);">存储设施</div>
<div class="t" style="left:254.15px;top:559.12px;width:90px;height:10.56px;font-size:8.8px;line-height:10.56px;text-align:center;color:#2e2e2e;white-space:nowrap;-webkit-text-stroke:0.25px #2e2e2e;filter:blur(0.3px);">服务器设备</div>
<div class="t" style="left:311.40px;top:558.72px;width:90px;height:10.56px;font-size:8.8px;line-height:10.56px;text-align:center;color:#2e2e2e;white-space:nowrap;-webkit-text-stroke:0.25px #2e2e2e;filter:blur(0.3px);">计算机设施</div>
<div class="t" style="left:374.25px;top:558.22px;width:90px;height:10.56px;font-size:8.8px;line-height:10.56px;text-align:center;color:#2e2e2e;white-space:nowrap;-webkit-text-stroke:0.25px #2e2e2e;filter:blur(0.3px);">网络交换设施</div>
<div class="t" style="left:440.35px;top:558.72px;width:90px;height:10.56px;font-size:8.8px;line-height:10.56px;text-align:center;color:#2e2e2e;white-space:nowrap;-webkit-text-stroke:0.25px #2e2e2e;filter:blur(0.3px);">网络安全设施</div>
<div class="t" style="left:549.20px;top:557.72px;width:90px;height:10.56px;font-size:8.8px;line-height:10.56px;text-align:center;color:#2e2e2e;white-space:nowrap;-webkit-text-stroke:0.25px #2e2e2e;filter:blur(0.3px);">输入、输出设备</div>
</div>
</body></html>
